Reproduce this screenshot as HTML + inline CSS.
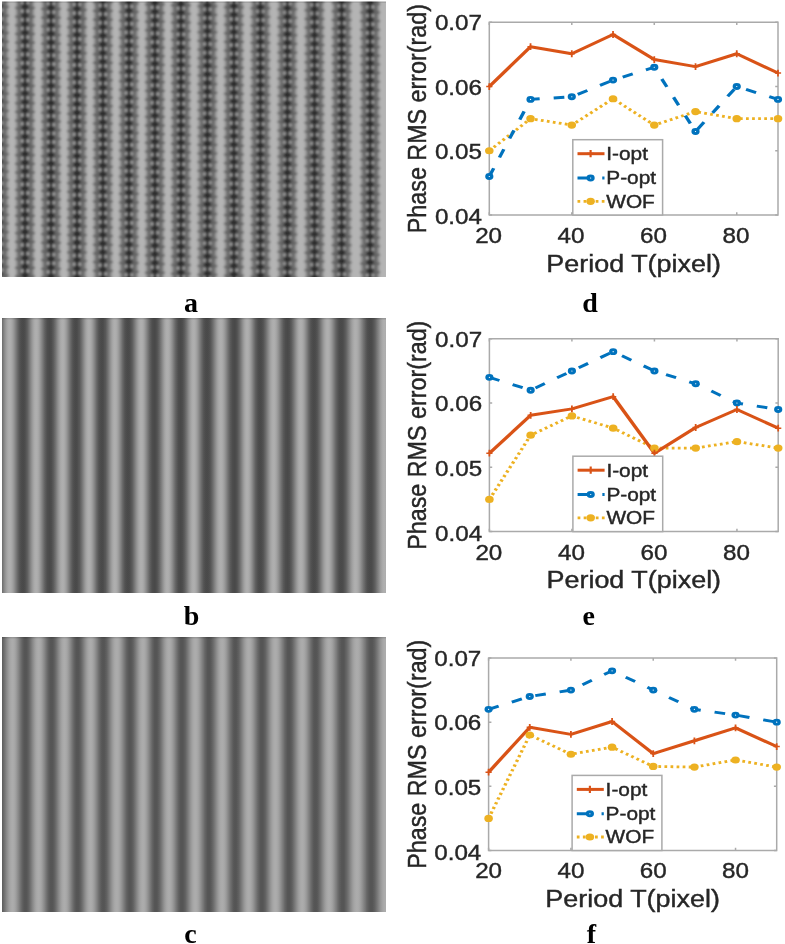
<!DOCTYPE html>
<html><head><meta charset="utf-8"><style>
html,body{margin:0;padding:0;background:#fff;width:785px;height:944px;overflow:hidden}
svg{display:block;font-family:"Liberation Sans",sans-serif}
text{stroke:#262626;stroke-width:0.4px}
text.lt{stroke:none}
</style></head><body>
<svg width="785" height="944" viewBox="0 0 785 944" fill="#262626">
<defs><linearGradient id="gb" gradientUnits="userSpaceOnUse" x1="2" y1="0" x2="386" y2="0"><stop offset="0.0000" stop-color="#6c6c6c"/><stop offset="0.0026" stop-color="#787878"/><stop offset="0.0052" stop-color="#858585"/><stop offset="0.0078" stop-color="#919191"/><stop offset="0.0104" stop-color="#9b9b9b"/><stop offset="0.0130" stop-color="#a4a4a4"/><stop offset="0.0156" stop-color="#ababab"/><stop offset="0.0182" stop-color="#aeaeae"/><stop offset="0.0208" stop-color="#afafaf"/><stop offset="0.0234" stop-color="#acacac"/><stop offset="0.0260" stop-color="#a6a6a6"/><stop offset="0.0286" stop-color="#9e9e9e"/><stop offset="0.0312" stop-color="#949494"/><stop offset="0.0339" stop-color="#888888"/><stop offset="0.0365" stop-color="#7c7c7c"/><stop offset="0.0391" stop-color="#707070"/><stop offset="0.0417" stop-color="#646464"/><stop offset="0.0443" stop-color="#5b5b5b"/><stop offset="0.0469" stop-color="#535353"/><stop offset="0.0495" stop-color="#4e4e4e"/><stop offset="0.0521" stop-color="#4b4b4b"/><stop offset="0.0547" stop-color="#4a4a4a"/><stop offset="0.0573" stop-color="#4b4b4b"/><stop offset="0.0599" stop-color="#4e4e4e"/><stop offset="0.0625" stop-color="#545454"/><stop offset="0.0651" stop-color="#5c5c5c"/><stop offset="0.0677" stop-color="#666666"/><stop offset="0.0703" stop-color="#727272"/><stop offset="0.0729" stop-color="#7e7e7e"/><stop offset="0.0755" stop-color="#8b8b8b"/><stop offset="0.0781" stop-color="#969696"/><stop offset="0.0807" stop-color="#a0a0a0"/><stop offset="0.0833" stop-color="#a8a8a8"/><stop offset="0.0859" stop-color="#adadad"/><stop offset="0.0885" stop-color="#afafaf"/><stop offset="0.0911" stop-color="#aeaeae"/><stop offset="0.0938" stop-color="#aaaaaa"/><stop offset="0.0964" stop-color="#a3a3a3"/><stop offset="0.0990" stop-color="#999999"/><stop offset="0.1016" stop-color="#8e8e8e"/><stop offset="0.1042" stop-color="#828282"/><stop offset="0.1068" stop-color="#767676"/><stop offset="0.1094" stop-color="#6a6a6a"/><stop offset="0.1120" stop-color="#5f5f5f"/><stop offset="0.1146" stop-color="#565656"/><stop offset="0.1172" stop-color="#505050"/><stop offset="0.1198" stop-color="#4c4c4c"/><stop offset="0.1224" stop-color="#4a4a4a"/><stop offset="0.1250" stop-color="#4a4a4a"/><stop offset="0.1276" stop-color="#4c4c4c"/><stop offset="0.1302" stop-color="#515151"/><stop offset="0.1328" stop-color="#585858"/><stop offset="0.1354" stop-color="#616161"/><stop offset="0.1380" stop-color="#6c6c6c"/><stop offset="0.1406" stop-color="#787878"/><stop offset="0.1432" stop-color="#858585"/><stop offset="0.1458" stop-color="#919191"/><stop offset="0.1484" stop-color="#9b9b9b"/><stop offset="0.1510" stop-color="#a4a4a4"/><stop offset="0.1536" stop-color="#ababab"/><stop offset="0.1562" stop-color="#aeaeae"/><stop offset="0.1589" stop-color="#afafaf"/><stop offset="0.1615" stop-color="#acacac"/><stop offset="0.1641" stop-color="#a6a6a6"/><stop offset="0.1667" stop-color="#9e9e9e"/><stop offset="0.1693" stop-color="#949494"/><stop offset="0.1719" stop-color="#888888"/><stop offset="0.1745" stop-color="#7c7c7c"/><stop offset="0.1771" stop-color="#707070"/><stop offset="0.1797" stop-color="#646464"/><stop offset="0.1823" stop-color="#5b5b5b"/><stop offset="0.1849" stop-color="#535353"/><stop offset="0.1875" stop-color="#4e4e4e"/><stop offset="0.1901" stop-color="#4b4b4b"/><stop offset="0.1927" stop-color="#4a4a4a"/><stop offset="0.1953" stop-color="#4b4b4b"/><stop offset="0.1979" stop-color="#4f4f4f"/><stop offset="0.2005" stop-color="#555555"/><stop offset="0.2031" stop-color="#5d5d5d"/><stop offset="0.2057" stop-color="#686868"/><stop offset="0.2083" stop-color="#737373"/><stop offset="0.2109" stop-color="#808080"/><stop offset="0.2135" stop-color="#8c8c8c"/><stop offset="0.2161" stop-color="#989898"/><stop offset="0.2188" stop-color="#a2a2a2"/><stop offset="0.2214" stop-color="#a9a9a9"/><stop offset="0.2240" stop-color="#aeaeae"/><stop offset="0.2266" stop-color="#afafaf"/><stop offset="0.2292" stop-color="#adadad"/><stop offset="0.2318" stop-color="#a8a8a8"/><stop offset="0.2344" stop-color="#a0a0a0"/><stop offset="0.2370" stop-color="#969696"/><stop offset="0.2396" stop-color="#8a8a8a"/><stop offset="0.2422" stop-color="#7e7e7e"/><stop offset="0.2448" stop-color="#717171"/><stop offset="0.2474" stop-color="#656565"/><stop offset="0.2500" stop-color="#5b5b5b"/><stop offset="0.2526" stop-color="#535353"/><stop offset="0.2552" stop-color="#4e4e4e"/><stop offset="0.2578" stop-color="#4b4b4b"/><stop offset="0.2604" stop-color="#4a4a4a"/><stop offset="0.2630" stop-color="#4b4b4b"/><stop offset="0.2656" stop-color="#4f4f4f"/><stop offset="0.2682" stop-color="#555555"/><stop offset="0.2708" stop-color="#5d5d5d"/><stop offset="0.2734" stop-color="#686868"/><stop offset="0.2760" stop-color="#737373"/><stop offset="0.2786" stop-color="#808080"/><stop offset="0.2812" stop-color="#8c8c8c"/><stop offset="0.2839" stop-color="#989898"/><stop offset="0.2865" stop-color="#a2a2a2"/><stop offset="0.2891" stop-color="#a9a9a9"/><stop offset="0.2917" stop-color="#aeaeae"/><stop offset="0.2943" stop-color="#afafaf"/><stop offset="0.2969" stop-color="#adadad"/><stop offset="0.2995" stop-color="#a8a8a8"/><stop offset="0.3021" stop-color="#a0a0a0"/><stop offset="0.3047" stop-color="#969696"/><stop offset="0.3073" stop-color="#8a8a8a"/><stop offset="0.3099" stop-color="#7e7e7e"/><stop offset="0.3125" stop-color="#717171"/><stop offset="0.3151" stop-color="#656565"/><stop offset="0.3177" stop-color="#5b5b5b"/><stop offset="0.3203" stop-color="#535353"/><stop offset="0.3229" stop-color="#4e4e4e"/><stop offset="0.3255" stop-color="#4b4b4b"/><stop offset="0.3281" stop-color="#4a4a4a"/><stop offset="0.3307" stop-color="#4b4b4b"/><stop offset="0.3333" stop-color="#4e4e4e"/><stop offset="0.3359" stop-color="#545454"/><stop offset="0.3385" stop-color="#5c5c5c"/><stop offset="0.3411" stop-color="#666666"/><stop offset="0.3438" stop-color="#727272"/><stop offset="0.3464" stop-color="#7e7e7e"/><stop offset="0.3490" stop-color="#8b8b8b"/><stop offset="0.3516" stop-color="#969696"/><stop offset="0.3542" stop-color="#a0a0a0"/><stop offset="0.3568" stop-color="#a8a8a8"/><stop offset="0.3594" stop-color="#adadad"/><stop offset="0.3620" stop-color="#afafaf"/><stop offset="0.3646" stop-color="#aeaeae"/><stop offset="0.3672" stop-color="#aaaaaa"/><stop offset="0.3698" stop-color="#a3a3a3"/><stop offset="0.3724" stop-color="#999999"/><stop offset="0.3750" stop-color="#8e8e8e"/><stop offset="0.3776" stop-color="#828282"/><stop offset="0.3802" stop-color="#767676"/><stop offset="0.3828" stop-color="#6a6a6a"/><stop offset="0.3854" stop-color="#5f5f5f"/><stop offset="0.3880" stop-color="#565656"/><stop offset="0.3906" stop-color="#505050"/><stop offset="0.3932" stop-color="#4c4c4c"/><stop offset="0.3958" stop-color="#4a4a4a"/><stop offset="0.3984" stop-color="#4a4a4a"/><stop offset="0.4010" stop-color="#4d4d4d"/><stop offset="0.4036" stop-color="#515151"/><stop offset="0.4062" stop-color="#595959"/><stop offset="0.4089" stop-color="#626262"/><stop offset="0.4115" stop-color="#6d6d6d"/><stop offset="0.4141" stop-color="#7a7a7a"/><stop offset="0.4167" stop-color="#868686"/><stop offset="0.4193" stop-color="#929292"/><stop offset="0.4219" stop-color="#9d9d9d"/><stop offset="0.4245" stop-color="#a6a6a6"/><stop offset="0.4271" stop-color="#acacac"/><stop offset="0.4297" stop-color="#afafaf"/><stop offset="0.4323" stop-color="#aeaeae"/><stop offset="0.4349" stop-color="#ababab"/><stop offset="0.4375" stop-color="#a4a4a4"/><stop offset="0.4401" stop-color="#9b9b9b"/><stop offset="0.4427" stop-color="#909090"/><stop offset="0.4453" stop-color="#848484"/><stop offset="0.4479" stop-color="#777777"/><stop offset="0.4505" stop-color="#6b6b6b"/><stop offset="0.4531" stop-color="#606060"/><stop offset="0.4557" stop-color="#575757"/><stop offset="0.4583" stop-color="#505050"/><stop offset="0.4609" stop-color="#4c4c4c"/><stop offset="0.4635" stop-color="#4a4a4a"/><stop offset="0.4661" stop-color="#4a4a4a"/><stop offset="0.4688" stop-color="#4c4c4c"/><stop offset="0.4714" stop-color="#515151"/><stop offset="0.4740" stop-color="#585858"/><stop offset="0.4766" stop-color="#616161"/><stop offset="0.4792" stop-color="#6c6c6c"/><stop offset="0.4818" stop-color="#787878"/><stop offset="0.4844" stop-color="#858585"/><stop offset="0.4870" stop-color="#919191"/><stop offset="0.4896" stop-color="#9b9b9b"/><stop offset="0.4922" stop-color="#a4a4a4"/><stop offset="0.4948" stop-color="#ababab"/><stop offset="0.4974" stop-color="#aeaeae"/><stop offset="0.5000" stop-color="#afafaf"/><stop offset="0.5026" stop-color="#acacac"/><stop offset="0.5052" stop-color="#a6a6a6"/><stop offset="0.5078" stop-color="#9e9e9e"/><stop offset="0.5104" stop-color="#949494"/><stop offset="0.5130" stop-color="#888888"/><stop offset="0.5156" stop-color="#7c7c7c"/><stop offset="0.5182" stop-color="#707070"/><stop offset="0.5208" stop-color="#646464"/><stop offset="0.5234" stop-color="#5b5b5b"/><stop offset="0.5260" stop-color="#535353"/><stop offset="0.5286" stop-color="#4e4e4e"/><stop offset="0.5312" stop-color="#4b4b4b"/><stop offset="0.5339" stop-color="#4a4a4a"/><stop offset="0.5365" stop-color="#4b4b4b"/><stop offset="0.5391" stop-color="#4e4e4e"/><stop offset="0.5417" stop-color="#535353"/><stop offset="0.5443" stop-color="#5b5b5b"/><stop offset="0.5469" stop-color="#646464"/><stop offset="0.5495" stop-color="#6f6f6f"/><stop offset="0.5521" stop-color="#7b7b7b"/><stop offset="0.5547" stop-color="#878787"/><stop offset="0.5573" stop-color="#929292"/><stop offset="0.5599" stop-color="#9d9d9d"/><stop offset="0.5625" stop-color="#a5a5a5"/><stop offset="0.5651" stop-color="#ababab"/><stop offset="0.5677" stop-color="#aeaeae"/><stop offset="0.5703" stop-color="#afafaf"/><stop offset="0.5729" stop-color="#acacac"/><stop offset="0.5755" stop-color="#a7a7a7"/><stop offset="0.5781" stop-color="#9f9f9f"/><stop offset="0.5807" stop-color="#969696"/><stop offset="0.5833" stop-color="#8b8b8b"/><stop offset="0.5859" stop-color="#7f7f7f"/><stop offset="0.5885" stop-color="#737373"/><stop offset="0.5911" stop-color="#686868"/><stop offset="0.5938" stop-color="#5e5e5e"/><stop offset="0.5964" stop-color="#555555"/><stop offset="0.5990" stop-color="#4f4f4f"/><stop offset="0.6016" stop-color="#4c4c4c"/><stop offset="0.6042" stop-color="#4a4a4a"/><stop offset="0.6068" stop-color="#4a4a4a"/><stop offset="0.6094" stop-color="#4d4d4d"/><stop offset="0.6120" stop-color="#525252"/><stop offset="0.6146" stop-color="#595959"/><stop offset="0.6172" stop-color="#636363"/><stop offset="0.6198" stop-color="#6f6f6f"/><stop offset="0.6224" stop-color="#7b7b7b"/><stop offset="0.6250" stop-color="#888888"/><stop offset="0.6276" stop-color="#949494"/><stop offset="0.6302" stop-color="#9f9f9f"/><stop offset="0.6328" stop-color="#a7a7a7"/><stop offset="0.6354" stop-color="#adadad"/><stop offset="0.6380" stop-color="#afafaf"/><stop offset="0.6406" stop-color="#aeaeae"/><stop offset="0.6432" stop-color="#a9a9a9"/><stop offset="0.6458" stop-color="#a2a2a2"/><stop offset="0.6484" stop-color="#989898"/><stop offset="0.6510" stop-color="#8c8c8c"/><stop offset="0.6536" stop-color="#7f7f7f"/><stop offset="0.6562" stop-color="#727272"/><stop offset="0.6589" stop-color="#666666"/><stop offset="0.6615" stop-color="#5c5c5c"/><stop offset="0.6641" stop-color="#545454"/><stop offset="0.6667" stop-color="#4e4e4e"/><stop offset="0.6693" stop-color="#4b4b4b"/><stop offset="0.6719" stop-color="#4a4a4a"/><stop offset="0.6745" stop-color="#4b4b4b"/><stop offset="0.6771" stop-color="#4e4e4e"/><stop offset="0.6797" stop-color="#535353"/><stop offset="0.6823" stop-color="#5b5b5b"/><stop offset="0.6849" stop-color="#646464"/><stop offset="0.6875" stop-color="#6f6f6f"/><stop offset="0.6901" stop-color="#7b7b7b"/><stop offset="0.6927" stop-color="#878787"/><stop offset="0.6953" stop-color="#929292"/><stop offset="0.6979" stop-color="#9d9d9d"/><stop offset="0.7005" stop-color="#a5a5a5"/><stop offset="0.7031" stop-color="#ababab"/><stop offset="0.7057" stop-color="#aeaeae"/><stop offset="0.7083" stop-color="#afafaf"/><stop offset="0.7109" stop-color="#acacac"/><stop offset="0.7135" stop-color="#a7a7a7"/><stop offset="0.7161" stop-color="#9f9f9f"/><stop offset="0.7188" stop-color="#969696"/><stop offset="0.7214" stop-color="#8b8b8b"/><stop offset="0.7240" stop-color="#7f7f7f"/><stop offset="0.7266" stop-color="#737373"/><stop offset="0.7292" stop-color="#686868"/><stop offset="0.7318" stop-color="#5e5e5e"/><stop offset="0.7344" stop-color="#555555"/><stop offset="0.7370" stop-color="#4f4f4f"/><stop offset="0.7396" stop-color="#4c4c4c"/><stop offset="0.7422" stop-color="#4a4a4a"/><stop offset="0.7448" stop-color="#4a4a4a"/><stop offset="0.7474" stop-color="#4c4c4c"/><stop offset="0.7500" stop-color="#515151"/><stop offset="0.7526" stop-color="#585858"/><stop offset="0.7552" stop-color="#616161"/><stop offset="0.7578" stop-color="#6c6c6c"/><stop offset="0.7604" stop-color="#787878"/><stop offset="0.7630" stop-color="#848484"/><stop offset="0.7656" stop-color="#909090"/><stop offset="0.7682" stop-color="#9b9b9b"/><stop offset="0.7708" stop-color="#a4a4a4"/><stop offset="0.7734" stop-color="#ababab"/><stop offset="0.7760" stop-color="#aeaeae"/><stop offset="0.7786" stop-color="#afafaf"/><stop offset="0.7812" stop-color="#acacac"/><stop offset="0.7839" stop-color="#a7a7a7"/><stop offset="0.7865" stop-color="#9f9f9f"/><stop offset="0.7891" stop-color="#959595"/><stop offset="0.7917" stop-color="#898989"/><stop offset="0.7943" stop-color="#7d7d7d"/><stop offset="0.7969" stop-color="#717171"/><stop offset="0.7995" stop-color="#656565"/><stop offset="0.8021" stop-color="#5b5b5b"/><stop offset="0.8047" stop-color="#535353"/><stop offset="0.8073" stop-color="#4e4e4e"/><stop offset="0.8099" stop-color="#4b4b4b"/><stop offset="0.8125" stop-color="#4a4a4a"/><stop offset="0.8151" stop-color="#4b4b4b"/><stop offset="0.8177" stop-color="#4e4e4e"/><stop offset="0.8203" stop-color="#535353"/><stop offset="0.8229" stop-color="#5b5b5b"/><stop offset="0.8255" stop-color="#646464"/><stop offset="0.8281" stop-color="#6f6f6f"/><stop offset="0.8307" stop-color="#7b7b7b"/><stop offset="0.8333" stop-color="#878787"/><stop offset="0.8359" stop-color="#939393"/><stop offset="0.8385" stop-color="#9d9d9d"/><stop offset="0.8411" stop-color="#a5a5a5"/><stop offset="0.8438" stop-color="#ababab"/><stop offset="0.8464" stop-color="#afafaf"/><stop offset="0.8490" stop-color="#afafaf"/><stop offset="0.8516" stop-color="#acacac"/><stop offset="0.8542" stop-color="#a6a6a6"/><stop offset="0.8568" stop-color="#9e9e9e"/><stop offset="0.8594" stop-color="#949494"/><stop offset="0.8620" stop-color="#888888"/><stop offset="0.8646" stop-color="#7c7c7c"/><stop offset="0.8672" stop-color="#707070"/><stop offset="0.8698" stop-color="#656565"/><stop offset="0.8724" stop-color="#5c5c5c"/><stop offset="0.8750" stop-color="#545454"/><stop offset="0.8776" stop-color="#4e4e4e"/><stop offset="0.8802" stop-color="#4b4b4b"/><stop offset="0.8828" stop-color="#4a4a4a"/><stop offset="0.8854" stop-color="#4b4b4b"/><stop offset="0.8880" stop-color="#4d4d4d"/><stop offset="0.8906" stop-color="#515151"/><stop offset="0.8932" stop-color="#585858"/><stop offset="0.8958" stop-color="#606060"/><stop offset="0.8984" stop-color="#6a6a6a"/><stop offset="0.9010" stop-color="#757575"/><stop offset="0.9036" stop-color="#808080"/><stop offset="0.9062" stop-color="#8b8b8b"/><stop offset="0.9089" stop-color="#969696"/><stop offset="0.9115" stop-color="#9f9f9f"/><stop offset="0.9141" stop-color="#a6a6a6"/><stop offset="0.9167" stop-color="#acacac"/><stop offset="0.9193" stop-color="#afafaf"/><stop offset="0.9219" stop-color="#afafaf"/><stop offset="0.9245" stop-color="#acacac"/><stop offset="0.9271" stop-color="#a8a8a8"/><stop offset="0.9297" stop-color="#a0a0a0"/><stop offset="0.9323" stop-color="#989898"/><stop offset="0.9349" stop-color="#8d8d8d"/><stop offset="0.9375" stop-color="#828282"/><stop offset="0.9401" stop-color="#777777"/><stop offset="0.9427" stop-color="#6c6c6c"/><stop offset="0.9453" stop-color="#626262"/><stop offset="0.9479" stop-color="#595959"/><stop offset="0.9505" stop-color="#525252"/><stop offset="0.9531" stop-color="#4e4e4e"/><stop offset="0.9557" stop-color="#4b4b4b"/><stop offset="0.9583" stop-color="#4a4a4a"/><stop offset="0.9609" stop-color="#4b4b4b"/><stop offset="0.9635" stop-color="#4d4d4d"/><stop offset="0.9661" stop-color="#515151"/><stop offset="0.9688" stop-color="#585858"/><stop offset="0.9714" stop-color="#606060"/><stop offset="0.9740" stop-color="#6a6a6a"/><stop offset="0.9766" stop-color="#757575"/><stop offset="0.9792" stop-color="#808080"/><stop offset="0.9818" stop-color="#8b8b8b"/><stop offset="0.9844" stop-color="#969696"/><stop offset="0.9870" stop-color="#9f9f9f"/><stop offset="0.9896" stop-color="#a6a6a6"/><stop offset="0.9922" stop-color="#acacac"/><stop offset="0.9948" stop-color="#afafaf"/><stop offset="0.9974" stop-color="#afafaf"/><stop offset="1.0000" stop-color="#acacac"/></linearGradient><linearGradient id="gc" gradientUnits="userSpaceOnUse" x1="2" y1="0" x2="386" y2="0"><stop offset="0.0000" stop-color="#5d5d5d"/><stop offset="0.0026" stop-color="#646464"/><stop offset="0.0052" stop-color="#6d6d6d"/><stop offset="0.0078" stop-color="#777777"/><stop offset="0.0104" stop-color="#828282"/><stop offset="0.0130" stop-color="#8c8c8c"/><stop offset="0.0156" stop-color="#959595"/><stop offset="0.0182" stop-color="#9e9e9e"/><stop offset="0.0208" stop-color="#a5a5a5"/><stop offset="0.0234" stop-color="#a9a9a9"/><stop offset="0.0260" stop-color="#acacac"/><stop offset="0.0286" stop-color="#acacac"/><stop offset="0.0312" stop-color="#a9a9a9"/><stop offset="0.0339" stop-color="#a5a5a5"/><stop offset="0.0365" stop-color="#9e9e9e"/><stop offset="0.0391" stop-color="#959595"/><stop offset="0.0417" stop-color="#8c8c8c"/><stop offset="0.0443" stop-color="#828282"/><stop offset="0.0469" stop-color="#777777"/><stop offset="0.0495" stop-color="#6d6d6d"/><stop offset="0.0521" stop-color="#646464"/><stop offset="0.0547" stop-color="#5d5d5d"/><stop offset="0.0573" stop-color="#575757"/><stop offset="0.0599" stop-color="#545454"/><stop offset="0.0625" stop-color="#545454"/><stop offset="0.0651" stop-color="#575757"/><stop offset="0.0677" stop-color="#5d5d5d"/><stop offset="0.0703" stop-color="#646464"/><stop offset="0.0729" stop-color="#6d6d6d"/><stop offset="0.0755" stop-color="#777777"/><stop offset="0.0781" stop-color="#828282"/><stop offset="0.0807" stop-color="#8c8c8c"/><stop offset="0.0833" stop-color="#959595"/><stop offset="0.0859" stop-color="#9e9e9e"/><stop offset="0.0885" stop-color="#a5a5a5"/><stop offset="0.0911" stop-color="#a9a9a9"/><stop offset="0.0938" stop-color="#acacac"/><stop offset="0.0964" stop-color="#acacac"/><stop offset="0.0990" stop-color="#a9a9a9"/><stop offset="0.1016" stop-color="#a5a5a5"/><stop offset="0.1042" stop-color="#9e9e9e"/><stop offset="0.1068" stop-color="#959595"/><stop offset="0.1094" stop-color="#8c8c8c"/><stop offset="0.1120" stop-color="#828282"/><stop offset="0.1146" stop-color="#777777"/><stop offset="0.1172" stop-color="#6d6d6d"/><stop offset="0.1198" stop-color="#646464"/><stop offset="0.1224" stop-color="#5d5d5d"/><stop offset="0.1250" stop-color="#575757"/><stop offset="0.1276" stop-color="#545454"/><stop offset="0.1302" stop-color="#545454"/><stop offset="0.1328" stop-color="#575757"/><stop offset="0.1354" stop-color="#5d5d5d"/><stop offset="0.1380" stop-color="#646464"/><stop offset="0.1406" stop-color="#6d6d6d"/><stop offset="0.1432" stop-color="#777777"/><stop offset="0.1458" stop-color="#828282"/><stop offset="0.1484" stop-color="#8c8c8c"/><stop offset="0.1510" stop-color="#959595"/><stop offset="0.1536" stop-color="#9e9e9e"/><stop offset="0.1562" stop-color="#a5a5a5"/><stop offset="0.1589" stop-color="#a9a9a9"/><stop offset="0.1615" stop-color="#acacac"/><stop offset="0.1641" stop-color="#acacac"/><stop offset="0.1667" stop-color="#a9a9a9"/><stop offset="0.1693" stop-color="#a5a5a5"/><stop offset="0.1719" stop-color="#9e9e9e"/><stop offset="0.1745" stop-color="#959595"/><stop offset="0.1771" stop-color="#8c8c8c"/><stop offset="0.1797" stop-color="#828282"/><stop offset="0.1823" stop-color="#777777"/><stop offset="0.1849" stop-color="#6d6d6d"/><stop offset="0.1875" stop-color="#646464"/><stop offset="0.1901" stop-color="#5d5d5d"/><stop offset="0.1927" stop-color="#575757"/><stop offset="0.1953" stop-color="#545454"/><stop offset="0.1979" stop-color="#545454"/><stop offset="0.2005" stop-color="#575757"/><stop offset="0.2031" stop-color="#5d5d5d"/><stop offset="0.2057" stop-color="#646464"/><stop offset="0.2083" stop-color="#6d6d6d"/><stop offset="0.2109" stop-color="#777777"/><stop offset="0.2135" stop-color="#828282"/><stop offset="0.2161" stop-color="#8c8c8c"/><stop offset="0.2188" stop-color="#969696"/><stop offset="0.2214" stop-color="#9e9e9e"/><stop offset="0.2240" stop-color="#a5a5a5"/><stop offset="0.2266" stop-color="#a9a9a9"/><stop offset="0.2292" stop-color="#acacac"/><stop offset="0.2318" stop-color="#acacac"/><stop offset="0.2344" stop-color="#a9a9a9"/><stop offset="0.2370" stop-color="#a4a4a4"/><stop offset="0.2396" stop-color="#9d9d9d"/><stop offset="0.2422" stop-color="#959595"/><stop offset="0.2448" stop-color="#8b8b8b"/><stop offset="0.2474" stop-color="#818181"/><stop offset="0.2500" stop-color="#767676"/><stop offset="0.2526" stop-color="#6c6c6c"/><stop offset="0.2552" stop-color="#636363"/><stop offset="0.2578" stop-color="#5c5c5c"/><stop offset="0.2604" stop-color="#575757"/><stop offset="0.2630" stop-color="#545454"/><stop offset="0.2656" stop-color="#555555"/><stop offset="0.2682" stop-color="#585858"/><stop offset="0.2708" stop-color="#5d5d5d"/><stop offset="0.2734" stop-color="#646464"/><stop offset="0.2760" stop-color="#6d6d6d"/><stop offset="0.2786" stop-color="#777777"/><stop offset="0.2812" stop-color="#818181"/><stop offset="0.2839" stop-color="#8b8b8b"/><stop offset="0.2865" stop-color="#959595"/><stop offset="0.2891" stop-color="#9d9d9d"/><stop offset="0.2917" stop-color="#a4a4a4"/><stop offset="0.2943" stop-color="#a9a9a9"/><stop offset="0.2969" stop-color="#ababab"/><stop offset="0.2995" stop-color="#acacac"/><stop offset="0.3021" stop-color="#aaaaaa"/><stop offset="0.3047" stop-color="#a6a6a6"/><stop offset="0.3073" stop-color="#a0a0a0"/><stop offset="0.3099" stop-color="#989898"/><stop offset="0.3125" stop-color="#8f8f8f"/><stop offset="0.3151" stop-color="#858585"/><stop offset="0.3177" stop-color="#7b7b7b"/><stop offset="0.3203" stop-color="#717171"/><stop offset="0.3229" stop-color="#686868"/><stop offset="0.3255" stop-color="#606060"/><stop offset="0.3281" stop-color="#5a5a5a"/><stop offset="0.3307" stop-color="#565656"/><stop offset="0.3333" stop-color="#545454"/><stop offset="0.3359" stop-color="#565656"/><stop offset="0.3385" stop-color="#5a5a5a"/><stop offset="0.3411" stop-color="#606060"/><stop offset="0.3438" stop-color="#696969"/><stop offset="0.3464" stop-color="#727272"/><stop offset="0.3490" stop-color="#7d7d7d"/><stop offset="0.3516" stop-color="#878787"/><stop offset="0.3542" stop-color="#919191"/><stop offset="0.3568" stop-color="#9a9a9a"/><stop offset="0.3594" stop-color="#a2a2a2"/><stop offset="0.3620" stop-color="#a7a7a7"/><stop offset="0.3646" stop-color="#ababab"/><stop offset="0.3672" stop-color="#acacac"/><stop offset="0.3698" stop-color="#ababab"/><stop offset="0.3724" stop-color="#a7a7a7"/><stop offset="0.3750" stop-color="#a1a1a1"/><stop offset="0.3776" stop-color="#999999"/><stop offset="0.3802" stop-color="#909090"/><stop offset="0.3828" stop-color="#868686"/><stop offset="0.3854" stop-color="#7c7c7c"/><stop offset="0.3880" stop-color="#717171"/><stop offset="0.3906" stop-color="#686868"/><stop offset="0.3932" stop-color="#606060"/><stop offset="0.3958" stop-color="#595959"/><stop offset="0.3984" stop-color="#555555"/><stop offset="0.4010" stop-color="#545454"/><stop offset="0.4036" stop-color="#565656"/><stop offset="0.4062" stop-color="#5a5a5a"/><stop offset="0.4089" stop-color="#616161"/><stop offset="0.4115" stop-color="#696969"/><stop offset="0.4141" stop-color="#737373"/><stop offset="0.4167" stop-color="#7d7d7d"/><stop offset="0.4193" stop-color="#888888"/><stop offset="0.4219" stop-color="#929292"/><stop offset="0.4245" stop-color="#9b9b9b"/><stop offset="0.4271" stop-color="#a2a2a2"/><stop offset="0.4297" stop-color="#a8a8a8"/><stop offset="0.4323" stop-color="#ababab"/><stop offset="0.4349" stop-color="#acacac"/><stop offset="0.4375" stop-color="#ababab"/><stop offset="0.4401" stop-color="#a7a7a7"/><stop offset="0.4427" stop-color="#a1a1a1"/><stop offset="0.4453" stop-color="#999999"/><stop offset="0.4479" stop-color="#909090"/><stop offset="0.4505" stop-color="#868686"/><stop offset="0.4531" stop-color="#7b7b7b"/><stop offset="0.4557" stop-color="#717171"/><stop offset="0.4583" stop-color="#686868"/><stop offset="0.4609" stop-color="#606060"/><stop offset="0.4635" stop-color="#595959"/><stop offset="0.4661" stop-color="#555555"/><stop offset="0.4688" stop-color="#545454"/><stop offset="0.4714" stop-color="#565656"/><stop offset="0.4740" stop-color="#5a5a5a"/><stop offset="0.4766" stop-color="#606060"/><stop offset="0.4792" stop-color="#686868"/><stop offset="0.4818" stop-color="#717171"/><stop offset="0.4844" stop-color="#7b7b7b"/><stop offset="0.4870" stop-color="#858585"/><stop offset="0.4896" stop-color="#8f8f8f"/><stop offset="0.4922" stop-color="#989898"/><stop offset="0.4948" stop-color="#a0a0a0"/><stop offset="0.4974" stop-color="#a6a6a6"/><stop offset="0.5000" stop-color="#aaaaaa"/><stop offset="0.5026" stop-color="#acacac"/><stop offset="0.5052" stop-color="#acacac"/><stop offset="0.5078" stop-color="#a9a9a9"/><stop offset="0.5104" stop-color="#a5a5a5"/><stop offset="0.5130" stop-color="#9e9e9e"/><stop offset="0.5156" stop-color="#969696"/><stop offset="0.5182" stop-color="#8d8d8d"/><stop offset="0.5208" stop-color="#838383"/><stop offset="0.5234" stop-color="#797979"/><stop offset="0.5260" stop-color="#6f6f6f"/><stop offset="0.5286" stop-color="#666666"/><stop offset="0.5312" stop-color="#5f5f5f"/><stop offset="0.5339" stop-color="#595959"/><stop offset="0.5365" stop-color="#555555"/><stop offset="0.5391" stop-color="#545454"/><stop offset="0.5417" stop-color="#565656"/><stop offset="0.5443" stop-color="#5a5a5a"/><stop offset="0.5469" stop-color="#616161"/><stop offset="0.5495" stop-color="#696969"/><stop offset="0.5521" stop-color="#727272"/><stop offset="0.5547" stop-color="#7c7c7c"/><stop offset="0.5573" stop-color="#868686"/><stop offset="0.5599" stop-color="#909090"/><stop offset="0.5625" stop-color="#999999"/><stop offset="0.5651" stop-color="#a1a1a1"/><stop offset="0.5677" stop-color="#a7a7a7"/><stop offset="0.5703" stop-color="#aaaaaa"/><stop offset="0.5729" stop-color="#acacac"/><stop offset="0.5755" stop-color="#ababab"/><stop offset="0.5781" stop-color="#a8a8a8"/><stop offset="0.5807" stop-color="#a3a3a3"/><stop offset="0.5833" stop-color="#9c9c9c"/><stop offset="0.5859" stop-color="#939393"/><stop offset="0.5885" stop-color="#898989"/><stop offset="0.5911" stop-color="#7f7f7f"/><stop offset="0.5938" stop-color="#757575"/><stop offset="0.5964" stop-color="#6b6b6b"/><stop offset="0.5990" stop-color="#636363"/><stop offset="0.6016" stop-color="#5c5c5c"/><stop offset="0.6042" stop-color="#575757"/><stop offset="0.6068" stop-color="#545454"/><stop offset="0.6094" stop-color="#555555"/><stop offset="0.6120" stop-color="#585858"/><stop offset="0.6146" stop-color="#5d5d5d"/><stop offset="0.6172" stop-color="#646464"/><stop offset="0.6198" stop-color="#6d6d6d"/><stop offset="0.6224" stop-color="#777777"/><stop offset="0.6250" stop-color="#818181"/><stop offset="0.6276" stop-color="#8b8b8b"/><stop offset="0.6302" stop-color="#959595"/><stop offset="0.6328" stop-color="#9d9d9d"/><stop offset="0.6354" stop-color="#a4a4a4"/><stop offset="0.6380" stop-color="#a9a9a9"/><stop offset="0.6406" stop-color="#acacac"/><stop offset="0.6432" stop-color="#acacac"/><stop offset="0.6458" stop-color="#aaaaaa"/><stop offset="0.6484" stop-color="#a6a6a6"/><stop offset="0.6510" stop-color="#9f9f9f"/><stop offset="0.6536" stop-color="#989898"/><stop offset="0.6562" stop-color="#8e8e8e"/><stop offset="0.6589" stop-color="#848484"/><stop offset="0.6615" stop-color="#7a7a7a"/><stop offset="0.6641" stop-color="#707070"/><stop offset="0.6667" stop-color="#676767"/><stop offset="0.6693" stop-color="#5f5f5f"/><stop offset="0.6719" stop-color="#595959"/><stop offset="0.6745" stop-color="#555555"/><stop offset="0.6771" stop-color="#545454"/><stop offset="0.6797" stop-color="#565656"/><stop offset="0.6823" stop-color="#5a5a5a"/><stop offset="0.6849" stop-color="#606060"/><stop offset="0.6875" stop-color="#686868"/><stop offset="0.6901" stop-color="#717171"/><stop offset="0.6927" stop-color="#7b7b7b"/><stop offset="0.6953" stop-color="#858585"/><stop offset="0.6979" stop-color="#8f8f8f"/><stop offset="0.7005" stop-color="#989898"/><stop offset="0.7031" stop-color="#a0a0a0"/><stop offset="0.7057" stop-color="#a6a6a6"/><stop offset="0.7083" stop-color="#aaaaaa"/><stop offset="0.7109" stop-color="#acacac"/><stop offset="0.7135" stop-color="#acacac"/><stop offset="0.7161" stop-color="#a9a9a9"/><stop offset="0.7188" stop-color="#a5a5a5"/><stop offset="0.7214" stop-color="#9e9e9e"/><stop offset="0.7240" stop-color="#969696"/><stop offset="0.7266" stop-color="#8d8d8d"/><stop offset="0.7292" stop-color="#838383"/><stop offset="0.7318" stop-color="#797979"/><stop offset="0.7344" stop-color="#6f6f6f"/><stop offset="0.7370" stop-color="#666666"/><stop offset="0.7396" stop-color="#5f5f5f"/><stop offset="0.7422" stop-color="#595959"/><stop offset="0.7448" stop-color="#555555"/><stop offset="0.7474" stop-color="#545454"/><stop offset="0.7500" stop-color="#565656"/><stop offset="0.7526" stop-color="#5a5a5a"/><stop offset="0.7552" stop-color="#606060"/><stop offset="0.7578" stop-color="#696969"/><stop offset="0.7604" stop-color="#727272"/><stop offset="0.7630" stop-color="#7c7c7c"/><stop offset="0.7656" stop-color="#868686"/><stop offset="0.7682" stop-color="#909090"/><stop offset="0.7708" stop-color="#999999"/><stop offset="0.7734" stop-color="#a1a1a1"/><stop offset="0.7760" stop-color="#a6a6a6"/><stop offset="0.7786" stop-color="#aaaaaa"/><stop offset="0.7812" stop-color="#acacac"/><stop offset="0.7839" stop-color="#ababab"/><stop offset="0.7865" stop-color="#a8a8a8"/><stop offset="0.7891" stop-color="#a3a3a3"/><stop offset="0.7917" stop-color="#9c9c9c"/><stop offset="0.7943" stop-color="#949494"/><stop offset="0.7969" stop-color="#8a8a8a"/><stop offset="0.7995" stop-color="#808080"/><stop offset="0.8021" stop-color="#767676"/><stop offset="0.8047" stop-color="#6c6c6c"/><stop offset="0.8073" stop-color="#646464"/><stop offset="0.8099" stop-color="#5c5c5c"/><stop offset="0.8125" stop-color="#575757"/><stop offset="0.8151" stop-color="#545454"/><stop offset="0.8177" stop-color="#545454"/><stop offset="0.8203" stop-color="#575757"/><stop offset="0.8229" stop-color="#5c5c5c"/><stop offset="0.8255" stop-color="#636363"/><stop offset="0.8281" stop-color="#6b6b6b"/><stop offset="0.8307" stop-color="#757575"/><stop offset="0.8333" stop-color="#7f7f7f"/><stop offset="0.8359" stop-color="#898989"/><stop offset="0.8385" stop-color="#929292"/><stop offset="0.8411" stop-color="#9b9b9b"/><stop offset="0.8438" stop-color="#a2a2a2"/><stop offset="0.8464" stop-color="#a7a7a7"/><stop offset="0.8490" stop-color="#ababab"/><stop offset="0.8516" stop-color="#acacac"/><stop offset="0.8542" stop-color="#ababab"/><stop offset="0.8568" stop-color="#a8a8a8"/><stop offset="0.8594" stop-color="#a3a3a3"/><stop offset="0.8620" stop-color="#9c9c9c"/><stop offset="0.8646" stop-color="#939393"/><stop offset="0.8672" stop-color="#8a8a8a"/><stop offset="0.8698" stop-color="#808080"/><stop offset="0.8724" stop-color="#767676"/><stop offset="0.8750" stop-color="#6c6c6c"/><stop offset="0.8776" stop-color="#646464"/><stop offset="0.8802" stop-color="#5d5d5d"/><stop offset="0.8828" stop-color="#585858"/><stop offset="0.8854" stop-color="#555555"/><stop offset="0.8880" stop-color="#545454"/><stop offset="0.8906" stop-color="#565656"/><stop offset="0.8932" stop-color="#5b5b5b"/><stop offset="0.8958" stop-color="#616161"/><stop offset="0.8984" stop-color="#696969"/><stop offset="0.9010" stop-color="#717171"/><stop offset="0.9036" stop-color="#7a7a7a"/><stop offset="0.9062" stop-color="#848484"/><stop offset="0.9089" stop-color="#8d8d8d"/><stop offset="0.9115" stop-color="#969696"/><stop offset="0.9141" stop-color="#9e9e9e"/><stop offset="0.9167" stop-color="#a4a4a4"/><stop offset="0.9193" stop-color="#a8a8a8"/><stop offset="0.9219" stop-color="#ababab"/><stop offset="0.9245" stop-color="#acacac"/><stop offset="0.9271" stop-color="#ababab"/><stop offset="0.9297" stop-color="#a8a8a8"/><stop offset="0.9323" stop-color="#a3a3a3"/><stop offset="0.9349" stop-color="#9c9c9c"/><stop offset="0.9375" stop-color="#949494"/><stop offset="0.9401" stop-color="#8b8b8b"/><stop offset="0.9427" stop-color="#828282"/><stop offset="0.9453" stop-color="#797979"/><stop offset="0.9479" stop-color="#6f6f6f"/><stop offset="0.9505" stop-color="#676767"/><stop offset="0.9531" stop-color="#606060"/><stop offset="0.9557" stop-color="#5a5a5a"/><stop offset="0.9583" stop-color="#565656"/><stop offset="0.9609" stop-color="#545454"/><stop offset="0.9635" stop-color="#555555"/><stop offset="0.9661" stop-color="#585858"/><stop offset="0.9688" stop-color="#5d5d5d"/><stop offset="0.9714" stop-color="#646464"/><stop offset="0.9740" stop-color="#6c6c6c"/><stop offset="0.9766" stop-color="#757575"/><stop offset="0.9792" stop-color="#7e7e7e"/><stop offset="0.9818" stop-color="#888888"/><stop offset="0.9844" stop-color="#919191"/><stop offset="0.9870" stop-color="#999999"/><stop offset="0.9896" stop-color="#a0a0a0"/><stop offset="0.9922" stop-color="#a6a6a6"/><stop offset="0.9948" stop-color="#aaaaaa"/><stop offset="0.9974" stop-color="#acacac"/><stop offset="1.0000" stop-color="#acacac"/></linearGradient><pattern id="pa" patternUnits="userSpaceOnUse" x="-13.0" y="0" width="26.0" height="8.66"><rect x="0" y="0" width="26.0" height="8.66" fill="#b4b4b4"/><rect x="3.50" y="0" width="19.0" height="8.66" fill="#969696"/><rect x="5.60" y="0" width="14.8" height="8.66" fill="#696969"/><ellipse cx="13.00" cy="5.63" rx="10.6" ry="1.8" fill="#626262"/><rect x="9.50" y="2.43" width="7.0" height="3.8" fill="#303030"/><rect x="11.80" y="0" width="2.4" height="8.66" fill="#282828"/><circle cx="10.10" cy="0" r="1.5" fill="#a5a5a5"/><circle cx="15.90" cy="0" r="1.5" fill="#a5a5a5"/><circle cx="10.10" cy="8.66" r="1.5" fill="#a5a5a5"/><circle cx="15.90" cy="8.66" r="1.5" fill="#a5a5a5"/></pattern><filter id="bl" x="-2%" y="-2%" width="104%" height="104%"><feGaussianBlur stdDeviation="1.0"/></filter><clipPath id="cpa"><rect x="2" y="1.5" width="384" height="275.4"/></clipPath><filter id="soft" filterUnits="userSpaceOnUse" x="0" y="0" width="785" height="944"><feGaussianBlur stdDeviation="0.45"/></filter></defs>
<g filter="url(#soft)">
<g clip-path="url(#cpa)"><g filter="url(#bl)"><rect x="0" y="-2" width="390" height="282" fill="#b5b5b5"/><rect x="-13.00" y="-4.39" width="26.00" height="282" fill="url(#pa)" transform="translate(25.00 2.39)"/><rect x="-13.00" y="-5.38" width="26.00" height="282" fill="url(#pa)" transform="translate(51.00 3.38)"/><rect x="-13.00" y="-6.37" width="25.95" height="282" fill="url(#pa)" transform="translate(77.00 4.37)"/><rect x="-12.95" y="-7.35" width="25.95" height="282" fill="url(#pa)" transform="translate(102.90 5.35)"/><rect x="-13.00" y="-8.34" width="26.00" height="282" fill="url(#pa)" transform="translate(128.90 6.34)"/><rect x="-13.00" y="-9.33" width="26.00" height="282" fill="url(#pa)" transform="translate(154.90 7.33)"/><rect x="-13.00" y="-10.31" width="26.25" height="282" fill="url(#pa)" transform="translate(180.90 8.31)"/><rect x="-13.25" y="-11.32" width="26.50" height="282" fill="url(#pa)" transform="translate(207.40 9.32)"/><rect x="-13.25" y="-12.33" width="26.50" height="282" fill="url(#pa)" transform="translate(233.90 10.33)"/><rect x="-13.25" y="-13.34" width="26.75" height="282" fill="url(#pa)" transform="translate(260.40 11.34)"/><rect x="-13.50" y="-14.36" width="27.05" height="282" fill="url(#pa)" transform="translate(287.40 12.36)"/><rect x="-13.55" y="-15.39" width="27.10" height="282" fill="url(#pa)" transform="translate(314.50 13.39)"/><rect x="-13.55" y="-16.42" width="27.80" height="282" fill="url(#pa)" transform="translate(341.60 14.42)"/><rect x="-14.25" y="-17.50" width="28.50" height="282" fill="url(#pa)" transform="translate(370.10 15.50)"/><rect x="-13.00" y="-3.40" width="26.0" height="282" fill="url(#pa)" transform="translate(-1.00 1.40)"/></g></g>
<rect x="2" y="318" width="384" height="275" fill="url(#gb)"/>
<rect x="2" y="637" width="384" height="275" fill="url(#gc)"/>
<rect x="2" y="1.5" width="384" height="1.4" fill="#000" fill-opacity="0.12"/>
<rect x="2" y="318" width="384" height="1.4" fill="#000" fill-opacity="0.12"/>
<rect x="2" y="637" width="384" height="1.4" fill="#000" fill-opacity="0.12"/>
<path d="M489.3 22.3H778V215H489.3Z" fill="none" stroke="#aaaaaa" stroke-width="1.5"/>
<path d="M489.3 215v-2.8M489.3 22.3v2.8M571.79 215v-2.8M571.79 22.3v2.8M654.27 215v-2.8M654.27 22.3v2.8M736.76 215v-2.8M736.76 22.3v2.8M489.3 215h2.8M778 215h-2.8M489.3 150.77h2.8M778 150.77h-2.8M489.3 86.53h2.8M778 86.53h-2.8M489.3 22.3h2.8M778 22.3h-2.8" stroke="#aaaaaa" stroke-width="1.5"/>
<text x="444.18" y="243" transform="scale(1.1 1)" text-anchor="middle" font-size="22.0">20</text>
<text x="519.17" y="243" transform="scale(1.1 1)" text-anchor="middle" font-size="22.0">40</text>
<text x="594.16" y="243" transform="scale(1.1 1)" text-anchor="middle" font-size="22.0">60</text>
<text x="669.14" y="243" transform="scale(1.1 1)" text-anchor="middle" font-size="22.0">80</text>
<text x="438.18" y="224.06" transform="scale(1.1 1)" text-anchor="end" font-size="22.0">0.04</text>
<text x="438.18" y="159.41" transform="scale(1.1 1)" text-anchor="end" font-size="22.0">0.05</text>
<text x="438.18" y="94.75" transform="scale(1.1 1)" text-anchor="end" font-size="22.0">0.06</text>
<text x="438.18" y="30.1" transform="scale(1.1 1)" text-anchor="end" font-size="22.0">0.07</text>
<text x="569.32" y="271.6" transform="scale(1.113 1)" text-anchor="middle" font-size="24.2">Period T(pixel)</text>
<text transform="translate(426.3 118.65) rotate(-90) scale(1 1.128)" text-anchor="middle" font-size="23.3">Phase RMS error(rad)</text>
<g transform="scale(1.19 1)" fill="none">
<path d="M411.18 150.77L445.83 118.65L480.49 125.07L515.15 98.74L549.81 125.07L584.47 111.58L619.12 118.65L653.78 118.65" stroke="#EDB120" stroke-width="2.8" stroke-dasharray="2.3 2.8"/>
<path d="M411.18 176.46L445.83 99.38L480.49 96.81L515.15 80.11L549.81 67.26L584.47 131.5L619.12 86.53L653.78 99.38" stroke="#0072BD" stroke-width="2.9" stroke-dasharray="9 11.8"/>
<path d="M411.18 86.53L445.83 46.71L480.49 53.77L515.15 34.5L549.81 59.56L584.47 66.62L619.12 53.77L653.78 73.04" stroke="#D95319" stroke-width="3.0" stroke-linejoin="round"/>
<circle cx="411.18" cy="150.77" r="3.6" fill="#EDB120"/>
<circle cx="445.83" cy="118.65" r="3.6" fill="#EDB120"/>
<circle cx="480.49" cy="125.07" r="3.6" fill="#EDB120"/>
<circle cx="515.15" cy="98.74" r="3.6" fill="#EDB120"/>
<circle cx="549.81" cy="125.07" r="3.6" fill="#EDB120"/>
<circle cx="584.47" cy="111.58" r="3.6" fill="#EDB120"/>
<circle cx="619.12" cy="118.65" r="3.6" fill="#EDB120"/>
<circle cx="653.78" cy="118.65" r="3.6" fill="#EDB120"/>
<circle cx="411.18" cy="176.46" r="2.0" fill="#fff" stroke="#0072BD" stroke-width="2.9"/>
<circle cx="445.83" cy="99.38" r="2.0" fill="#fff" stroke="#0072BD" stroke-width="2.9"/>
<circle cx="480.49" cy="96.81" r="2.0" fill="#fff" stroke="#0072BD" stroke-width="2.9"/>
<circle cx="515.15" cy="80.11" r="2.0" fill="#fff" stroke="#0072BD" stroke-width="2.9"/>
<circle cx="549.81" cy="67.26" r="2.0" fill="#fff" stroke="#0072BD" stroke-width="2.9"/>
<circle cx="584.47" cy="131.5" r="2.0" fill="#fff" stroke="#0072BD" stroke-width="2.9"/>
<circle cx="619.12" cy="86.53" r="2.0" fill="#fff" stroke="#0072BD" stroke-width="2.9"/>
<circle cx="653.78" cy="99.38" r="2.0" fill="#fff" stroke="#0072BD" stroke-width="2.9"/>
<path d="M408.58 86.53h5.2M411.18 83.13v6.8" stroke="#D95319" stroke-width="1.5"/>
<path d="M443.23 46.71h5.2M445.83 43.31v6.8" stroke="#D95319" stroke-width="1.5"/>
<path d="M477.89 53.77h5.2M480.49 50.37v6.8" stroke="#D95319" stroke-width="1.5"/>
<path d="M512.55 34.5h5.2M515.15 31.1v6.8" stroke="#D95319" stroke-width="1.5"/>
<path d="M547.21 59.56h5.2M549.81 56.16v6.8" stroke="#D95319" stroke-width="1.5"/>
<path d="M581.87 66.62h5.2M584.47 63.22v6.8" stroke="#D95319" stroke-width="1.5"/>
<path d="M616.52 53.77h5.2M619.12 50.37v6.8" stroke="#D95319" stroke-width="1.5"/>
<path d="M651.18 73.04h5.2M653.78 69.64v6.8" stroke="#D95319" stroke-width="1.5"/>
</g>
<rect x="572.8" y="139.7" width="89.8" height="75.3" fill="#fff" stroke="#aaaaaa" stroke-width="1.5"/>
<g transform="scale(1.19 1)" fill="none">
<path d="M485.29 153.7H507.98" stroke="#D95319" stroke-width="3.0"/>
<path d="M493.3 153.7h6M496.3 150.1v7.2" stroke="#D95319" stroke-width="1.8"/>
<path d="M485.29 178H507.98" stroke="#0072BD" stroke-width="2.9" stroke-dasharray="9 11.8"/>
<circle cx="496.3" cy="178" r="2.0" fill="#fff" stroke="#0072BD" stroke-width="2.9"/>
<path d="M485.29 201.3H507.98" stroke="#EDB120" stroke-width="2.8" stroke-dasharray="2.3 2.8"/>
<circle cx="496.3" cy="201.3" r="3.6" fill="#EDB120"/>
</g>
<text x="509.5" y="160.1" transform="scale(1.19 1)" font-size="17.5">I-opt</text>
<text x="509.5" y="184.4" transform="scale(1.19 1)" font-size="17.5">P-opt</text>
<text x="509.5" y="207.7" transform="scale(1.19 1)" font-size="17.5">WOF</text>
<path d="M489.4 338.8H778.2V531.6H489.4Z" fill="none" stroke="#aaaaaa" stroke-width="1.5"/>
<path d="M489.4 531.6v-2.8M489.4 338.8v2.8M571.91 531.6v-2.8M571.91 338.8v2.8M654.43 531.6v-2.8M654.43 338.8v2.8M736.94 531.6v-2.8M736.94 338.8v2.8M489.4 531.6h2.8M778.2 531.6h-2.8M489.4 467.33h2.8M778.2 467.33h-2.8M489.4 403.07h2.8M778.2 403.07h-2.8M489.4 338.8h2.8M778.2 338.8h-2.8" stroke="#aaaaaa" stroke-width="1.5"/>
<text x="444.45" y="559.6" transform="scale(1.1 1)" text-anchor="middle" font-size="22.0">20</text>
<text x="519.47" y="559.6" transform="scale(1.1 1)" text-anchor="middle" font-size="22.0">40</text>
<text x="594.48" y="559.6" transform="scale(1.1 1)" text-anchor="middle" font-size="22.0">60</text>
<text x="669.49" y="559.6" transform="scale(1.1 1)" text-anchor="middle" font-size="22.0">80</text>
<text x="438.27" y="540.66" transform="scale(1.1 1)" text-anchor="end" font-size="22.0">0.04</text>
<text x="438.27" y="475.97" transform="scale(1.1 1)" text-anchor="end" font-size="22.0">0.05</text>
<text x="438.27" y="411.29" transform="scale(1.1 1)" text-anchor="end" font-size="22.0">0.06</text>
<text x="438.27" y="346.6" transform="scale(1.1 1)" text-anchor="end" font-size="22.0">0.07</text>
<text x="569.45" y="588.2" transform="scale(1.113 1)" text-anchor="middle" font-size="24.2">Period T(pixel)</text>
<text transform="translate(426.3 435.2) rotate(-90) scale(1 1.128)" text-anchor="middle" font-size="23.3">Phase RMS error(rad)</text>
<g transform="scale(1.19 1)" fill="none">
<path d="M411.26 499.47L445.93 435.2L480.6 415.92L515.27 428.13L549.94 448.05L584.61 448.05L619.28 441.63L653.95 448.05" stroke="#EDB120" stroke-width="2.8" stroke-dasharray="2.3 2.8"/>
<path d="M411.26 377.36L445.93 390.21L480.6 370.93L515.27 351.65L549.94 370.93L584.61 383.79L619.28 403.07L653.95 409.49" stroke="#0072BD" stroke-width="2.9" stroke-dasharray="9 11.8"/>
<path d="M411.26 453.19L445.93 415.28L480.6 408.85L515.27 396.64L549.94 453.19L584.61 427.49L619.28 409.49L653.95 428.13" stroke="#D95319" stroke-width="3.0" stroke-linejoin="round"/>
<circle cx="411.26" cy="499.47" r="3.6" fill="#EDB120"/>
<circle cx="445.93" cy="435.2" r="3.6" fill="#EDB120"/>
<circle cx="480.6" cy="415.92" r="3.6" fill="#EDB120"/>
<circle cx="515.27" cy="428.13" r="3.6" fill="#EDB120"/>
<circle cx="549.94" cy="448.05" r="3.6" fill="#EDB120"/>
<circle cx="584.61" cy="448.05" r="3.6" fill="#EDB120"/>
<circle cx="619.28" cy="441.63" r="3.6" fill="#EDB120"/>
<circle cx="653.95" cy="448.05" r="3.6" fill="#EDB120"/>
<circle cx="411.26" cy="377.36" r="2.0" fill="#fff" stroke="#0072BD" stroke-width="2.9"/>
<circle cx="445.93" cy="390.21" r="2.0" fill="#fff" stroke="#0072BD" stroke-width="2.9"/>
<circle cx="480.6" cy="370.93" r="2.0" fill="#fff" stroke="#0072BD" stroke-width="2.9"/>
<circle cx="515.27" cy="351.65" r="2.0" fill="#fff" stroke="#0072BD" stroke-width="2.9"/>
<circle cx="549.94" cy="370.93" r="2.0" fill="#fff" stroke="#0072BD" stroke-width="2.9"/>
<circle cx="584.61" cy="383.79" r="2.0" fill="#fff" stroke="#0072BD" stroke-width="2.9"/>
<circle cx="619.28" cy="403.07" r="2.0" fill="#fff" stroke="#0072BD" stroke-width="2.9"/>
<circle cx="653.95" cy="409.49" r="2.0" fill="#fff" stroke="#0072BD" stroke-width="2.9"/>
<path d="M408.66 453.19h5.2M411.26 449.79v6.8" stroke="#D95319" stroke-width="1.5"/>
<path d="M443.33 415.28h5.2M445.93 411.88v6.8" stroke="#D95319" stroke-width="1.5"/>
<path d="M478 408.85h5.2M480.6 405.45v6.8" stroke="#D95319" stroke-width="1.5"/>
<path d="M512.67 396.64h5.2M515.27 393.24v6.8" stroke="#D95319" stroke-width="1.5"/>
<path d="M547.34 453.19h5.2M549.94 449.79v6.8" stroke="#D95319" stroke-width="1.5"/>
<path d="M582.01 427.49h5.2M584.61 424.09v6.8" stroke="#D95319" stroke-width="1.5"/>
<path d="M616.68 409.49h5.2M619.28 406.09v6.8" stroke="#D95319" stroke-width="1.5"/>
<path d="M651.35 428.13h5.2M653.95 424.73v6.8" stroke="#D95319" stroke-width="1.5"/>
</g>
<rect x="572.9" y="456.2" width="89.8" height="75.4" fill="#fff" stroke="#aaaaaa" stroke-width="1.5"/>
<g transform="scale(1.19 1)" fill="none">
<path d="M485.38 470.2H508.07" stroke="#D95319" stroke-width="3.0"/>
<path d="M493.39 470.2h6M496.39 466.6v7.2" stroke="#D95319" stroke-width="1.8"/>
<path d="M485.38 494.5H508.07" stroke="#0072BD" stroke-width="2.9" stroke-dasharray="9 11.8"/>
<circle cx="496.39" cy="494.5" r="2.0" fill="#fff" stroke="#0072BD" stroke-width="2.9"/>
<path d="M485.38 517.8H508.07" stroke="#EDB120" stroke-width="2.8" stroke-dasharray="2.3 2.8"/>
<circle cx="496.39" cy="517.8" r="3.6" fill="#EDB120"/>
</g>
<text x="509.58" y="476.6" transform="scale(1.19 1)" font-size="17.5">I-opt</text>
<text x="509.58" y="500.9" transform="scale(1.19 1)" font-size="17.5">P-opt</text>
<text x="509.58" y="524.2" transform="scale(1.19 1)" font-size="17.5">WOF</text>
<path d="M488.6 658H776.7V850.5H488.6Z" fill="none" stroke="#aaaaaa" stroke-width="1.5"/>
<path d="M488.6 850.5v-2.8M488.6 658v2.8M570.91 850.5v-2.8M570.91 658v2.8M653.23 850.5v-2.8M653.23 658v2.8M735.54 850.5v-2.8M735.54 658v2.8M488.6 850.5h2.8M776.7 850.5h-2.8M488.6 786.33h2.8M776.7 786.33h-2.8M488.6 722.17h2.8M776.7 722.17h-2.8M488.6 658h2.8M776.7 658h-2.8" stroke="#aaaaaa" stroke-width="1.5"/>
<text x="444.18" y="878.5" transform="scale(1.1 1)" text-anchor="middle" font-size="22.0">20</text>
<text x="519.01" y="878.5" transform="scale(1.1 1)" text-anchor="middle" font-size="22.0">40</text>
<text x="593.84" y="878.5" transform="scale(1.1 1)" text-anchor="middle" font-size="22.0">60</text>
<text x="668.68" y="878.5" transform="scale(1.1 1)" text-anchor="middle" font-size="22.0">80</text>
<text x="437.55" y="859.56" transform="scale(1.1 1)" text-anchor="end" font-size="22.0">0.04</text>
<text x="437.55" y="794.97" transform="scale(1.1 1)" text-anchor="end" font-size="22.0">0.05</text>
<text x="437.55" y="730.39" transform="scale(1.1 1)" text-anchor="end" font-size="22.0">0.06</text>
<text x="437.55" y="665.8" transform="scale(1.1 1)" text-anchor="end" font-size="22.0">0.07</text>
<text x="568.42" y="907.1" transform="scale(1.113 1)" text-anchor="middle" font-size="24.2">Period T(pixel)</text>
<text transform="translate(426.3 754.25) rotate(-90) scale(1 1.128)" text-anchor="middle" font-size="23.3">Phase RMS error(rad)</text>
<g transform="scale(1.19 1)" fill="none">
<path d="M410.59 818.42L445.17 735L479.76 754.25L514.35 747.19L548.93 766.44L583.52 767.08L618.1 760.02L652.69 767.08" stroke="#EDB120" stroke-width="2.8" stroke-dasharray="2.3 2.8"/>
<path d="M410.59 709.33L445.17 696.5L479.76 690.08L514.35 670.83L548.93 690.08L583.52 709.33L618.1 715.11L652.69 722.17" stroke="#0072BD" stroke-width="2.9" stroke-dasharray="9 11.8"/>
<path d="M410.59 772.22L445.17 727.3L479.76 734.36L514.35 721.52L548.93 753.61L583.52 740.77L618.1 727.94L652.69 746.55" stroke="#D95319" stroke-width="3.0" stroke-linejoin="round"/>
<circle cx="410.59" cy="818.42" r="3.6" fill="#EDB120"/>
<circle cx="445.17" cy="735" r="3.6" fill="#EDB120"/>
<circle cx="479.76" cy="754.25" r="3.6" fill="#EDB120"/>
<circle cx="514.35" cy="747.19" r="3.6" fill="#EDB120"/>
<circle cx="548.93" cy="766.44" r="3.6" fill="#EDB120"/>
<circle cx="583.52" cy="767.08" r="3.6" fill="#EDB120"/>
<circle cx="618.1" cy="760.02" r="3.6" fill="#EDB120"/>
<circle cx="652.69" cy="767.08" r="3.6" fill="#EDB120"/>
<circle cx="410.59" cy="709.33" r="2.0" fill="#fff" stroke="#0072BD" stroke-width="2.9"/>
<circle cx="445.17" cy="696.5" r="2.0" fill="#fff" stroke="#0072BD" stroke-width="2.9"/>
<circle cx="479.76" cy="690.08" r="2.0" fill="#fff" stroke="#0072BD" stroke-width="2.9"/>
<circle cx="514.35" cy="670.83" r="2.0" fill="#fff" stroke="#0072BD" stroke-width="2.9"/>
<circle cx="548.93" cy="690.08" r="2.0" fill="#fff" stroke="#0072BD" stroke-width="2.9"/>
<circle cx="583.52" cy="709.33" r="2.0" fill="#fff" stroke="#0072BD" stroke-width="2.9"/>
<circle cx="618.1" cy="715.11" r="2.0" fill="#fff" stroke="#0072BD" stroke-width="2.9"/>
<circle cx="652.69" cy="722.17" r="2.0" fill="#fff" stroke="#0072BD" stroke-width="2.9"/>
<path d="M407.99 772.22h5.2M410.59 768.82v6.8" stroke="#D95319" stroke-width="1.5"/>
<path d="M442.57 727.3h5.2M445.17 723.9v6.8" stroke="#D95319" stroke-width="1.5"/>
<path d="M477.16 734.36h5.2M479.76 730.96v6.8" stroke="#D95319" stroke-width="1.5"/>
<path d="M511.75 721.52h5.2M514.35 718.12v6.8" stroke="#D95319" stroke-width="1.5"/>
<path d="M546.33 753.61h5.2M548.93 750.21v6.8" stroke="#D95319" stroke-width="1.5"/>
<path d="M580.92 740.77h5.2M583.52 737.38v6.8" stroke="#D95319" stroke-width="1.5"/>
<path d="M615.5 727.94h5.2M618.1 724.54v6.8" stroke="#D95319" stroke-width="1.5"/>
<path d="M650.09 746.55h5.2M652.69 743.15v6.8" stroke="#D95319" stroke-width="1.5"/>
</g>
<rect x="572.1" y="775.4" width="89.8" height="75.1" fill="#fff" stroke="#aaaaaa" stroke-width="1.5"/>
<g transform="scale(1.19 1)" fill="none">
<path d="M484.71 789.4H507.39" stroke="#D95319" stroke-width="3.0"/>
<path d="M492.71 789.4h6M495.71 785.8v7.2" stroke="#D95319" stroke-width="1.8"/>
<path d="M484.71 813.7H507.39" stroke="#0072BD" stroke-width="2.9" stroke-dasharray="9 11.8"/>
<circle cx="495.71" cy="813.7" r="2.0" fill="#fff" stroke="#0072BD" stroke-width="2.9"/>
<path d="M484.71 837H507.39" stroke="#EDB120" stroke-width="2.8" stroke-dasharray="2.3 2.8"/>
<circle cx="495.71" cy="837" r="3.6" fill="#EDB120"/>
</g>
<text x="508.91" y="795.8" transform="scale(1.19 1)" font-size="17.5">I-opt</text>
<text x="508.91" y="820.1" transform="scale(1.19 1)" font-size="17.5">P-opt</text>
<text x="508.91" y="843.4" transform="scale(1.19 1)" font-size="17.5">WOF</text>
<text class="lt" x="191.0" y="312.0" text-anchor="middle" font-family="Liberation Serif" font-weight="bold" font-size="28" fill="#000">a</text>
<text class="lt" x="590.0" y="311.5" text-anchor="middle" font-family="Liberation Serif" font-weight="bold" font-size="28" fill="#000">d</text>
<text class="lt" x="191.5" y="624.6" text-anchor="middle" font-family="Liberation Serif" font-weight="bold" font-size="28" fill="#000">b</text>
<text class="lt" x="588.6" y="624.6" text-anchor="middle" font-family="Liberation Serif" font-weight="bold" font-size="28" fill="#000">e</text>
<text class="lt" x="190.4" y="942.5" text-anchor="middle" font-family="Liberation Serif" font-weight="bold" font-size="28" fill="#000">c</text>
<text class="lt" x="591.3" y="942.5" text-anchor="middle" font-family="Liberation Serif" font-weight="bold" font-size="28" fill="#000">f</text>
</g>
</svg>
</body></html>
